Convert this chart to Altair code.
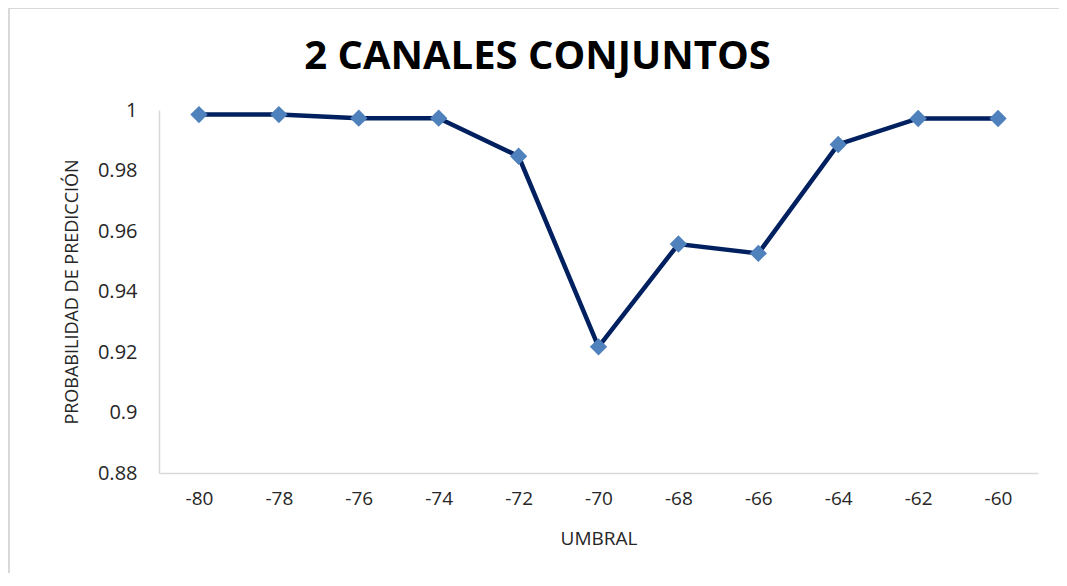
import altair as alt
import pandas as pd

umbral = [-80, -78, -76, -74, -72, -70, -68, -66, -64, -62, -60]
probabilidad = [0.9985, 0.9985, 0.9973, 0.9973, 0.9847, 0.9217, 0.9557, 0.9526, 0.9886, 0.9972, 0.9972]
y_ticks = [0.88, 0.9, 0.92, 0.94, 0.96, 0.98, 1.0]

df = pd.DataFrame({"UMBRAL": umbral, "PROB": probabilidad})

W, H = 879, 363
FONT = "Open Sans"

x_enc = alt.X(
    "UMBRAL:O",
    sort="ascending",
    scale=alt.Scale(type="point", padding=0.5),
    axis=alt.Axis(
        title="UMBRAL",
        labelAngle=0,
        labelFont=FONT,
        labelFontSize=19,
        labelColor="#262626",
        labelPadding=16,
        ticks=False,
        domainColor="#d9d9d9",
        domainWidth=1.5,
        titleFont=FONT,
        titleFontSize=19,
        titleFontWeight="normal",
        titleColor="#262626",
        titleY=65,
        titleBaseline="middle",
    ),
)
y_enc = alt.Y(
    "PROB:Q",
    scale=alt.Scale(domain=[0.88, 1.0], nice=False, zero=False),
    axis=alt.Axis(
        title="PROBABILIDAD DE PREDICCIÓN",
        values=y_ticks,
        format=".2~f",
        labelFont=FONT,
        labelFontSize=20,
        labelColor="#262626",
        labelPadding=22,
        ticks=False,
        grid=False,
        domainColor="#d9d9d9",
        domainWidth=1.5,
        titleFont=FONT,
        titleFontSize=18,
        titleFontWeight="normal",
        titleColor="#262626",
        titleX=-87,
        titleY=H / 2,
        titleAlign="center",
        titleBaseline="middle",
        titleAngle=-90,
    ),
)

border = alt.Chart(pd.DataFrame({"a": [0]})).mark_rect(
    fill=None, stroke="#d9d9d9", strokeWidth=2
).encode(
    x=alt.value(-150), x2=alt.value(W + 80), y=alt.value(-102), y2=alt.value(H + 160)
)

line = alt.Chart(df).mark_line(color="#002060", strokeWidth=4.5).encode(x=x_enc, y=y_enc)
points = alt.Chart(df).mark_point(
    shape="diamond", size=300, filled=True, color="#4F81BD", opacity=1
).encode(x=x_enc, y=y_enc)

chart = (
    alt.layer(border, line, points)
    .properties(
        width=W,
        height=H,
        background="white",
        autosize=alt.AutoSizeParams(type="none"),
        padding={"left": 151, "top": 102, "right": 21, "bottom": 100},
        title=alt.TitleParams(
            "2 CANALES CONJUNTOS",
            font=FONT,
            fontSize=40,
            fontWeight="bold",
            color="#000000",
            anchor="middle",
            frame="group",
            dx=-61,
            dy=74,
        ),
    )
    .configure_view(stroke=None, strokeWidth=0)
)

chart.save("out.html", embed_options={"renderer": "svg", "actions": False})
